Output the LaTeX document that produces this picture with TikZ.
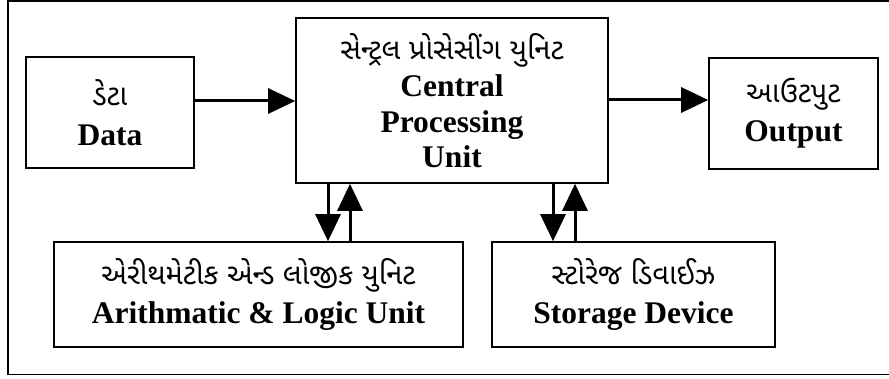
\documentclass[tikz,border=0pt]{standalone}
\usepackage{fontspec}
\setmainfont{Liberation Serif}
\newfontfamily\guj[Script=Gujarati]{Noto Sans Gujarati UI}
\usetikzlibrary{arrows.meta}
\newcommand{\gl}[1]{{\guj\mdseries\fontsize{29}{33}\selectfont #1}}
\begin{document}
\begin{tikzpicture}[x=1pt,y=-1pt,
  unitbox/.style={draw,line width=1.6pt,inner sep=0pt,align=center,
    font=\fontsize{31.5}{35.5}\selectfont\bfseries},
  flow/.style={line width=3pt,-{Triangle[length=27pt,width=25pt]}}]
  \useasboundingbox (0,0) rectangle (889,379);
  % outer frame, open on the right
  \draw[line width=1.4pt] (892,1) -- (8,1) -- (8,374.5) -- (892,374.5);

  \node[unitbox,minimum width=168,minimum height=111] (data) at (110,112.5)
    {\gl{ડેટા}\\[4pt]Data};
  \node[unitbox,minimum width=312,minimum height=165] (cpu) at (452,100.5)
    {\gl{સેન્ટ્રલ પ્રોસેસીંગ યુનિટ}\\[2pt]Central\\Processing\\Unit};
  \node[unitbox,minimum width=169,minimum height=111] (out) at (793.5,113.5)
    {\gl{આઉટપુટ}\\[4pt]Output};
  \node[unitbox,minimum width=409,minimum height=105] (alu) at (258.5,294.5)
    {\gl{એરીથમેટીક એન્ડ લોજીક યુનિટ}\\[4pt]Arithmatic \& Logic Unit};
  \node[unitbox,minimum width=283,minimum height=105] (store) at (633.5,294.5)
    {\gl{સ્ટોરેજ ડિવાઈઝ}\\[4pt]Storage Device};

  \draw[flow] (data.east |- 0,101) -- (cpu.west |- 0,101);
  \draw[flow] (cpu.east |- 0,100) -- (out.west |- 0,100);
  \draw[flow] (cpu.south -| 328,0) -- (alu.north -| 328,0);
  \draw[flow] (alu.north -| 350,0) -- (cpu.south -| 350,0);
  \draw[flow] (cpu.south -| 553,0) -- (store.north -| 553,0);
  \draw[flow] (store.north -| 575,0) -- (cpu.south -| 575,0);
\end{tikzpicture}
\end{document}
